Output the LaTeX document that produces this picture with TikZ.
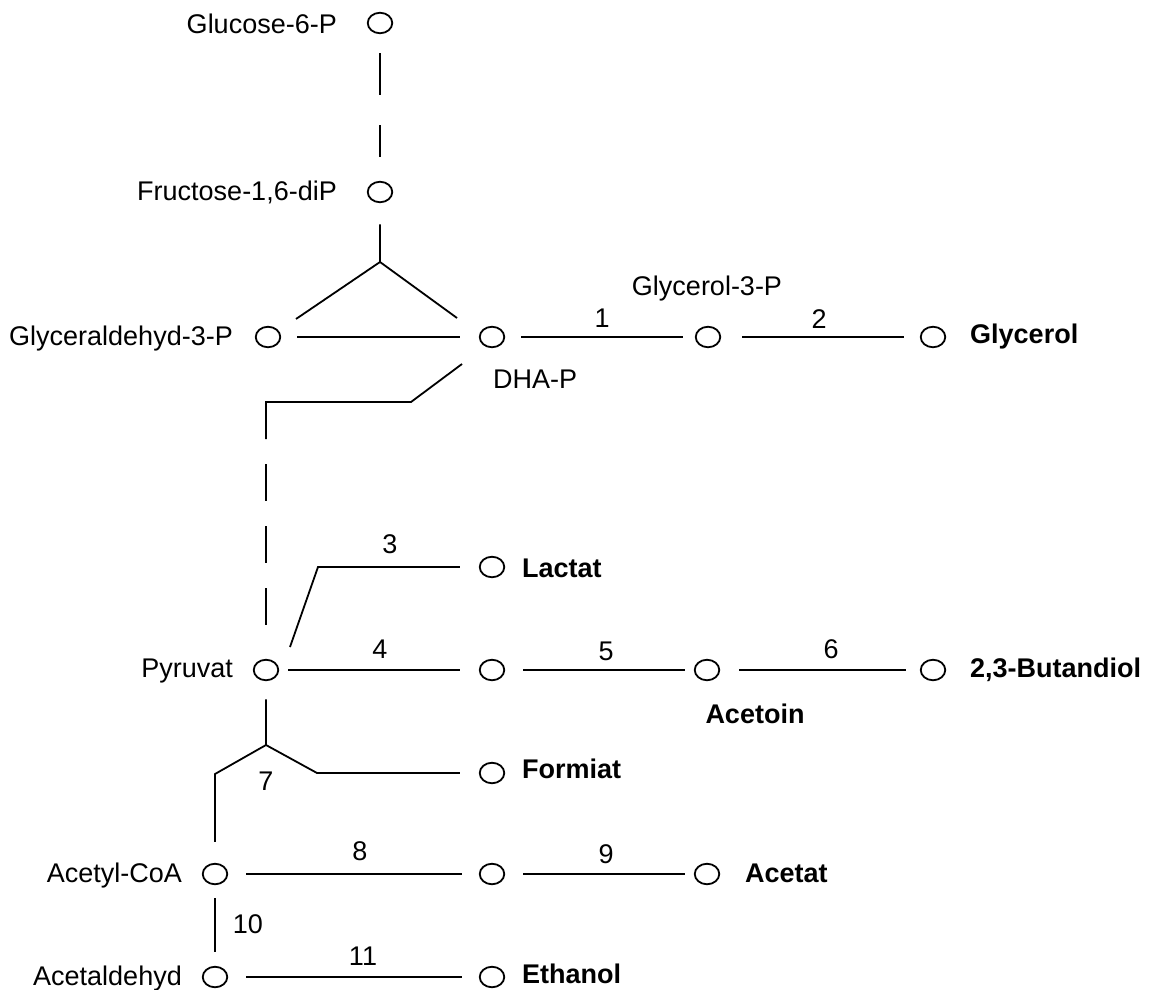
\documentclass[tikz,border=0pt]{standalone}
\usepackage{fontspec}
\setmainfont{Liberation Sans}
\usetikzlibrary{shapes.geometric}

\begin{document}
\begin{tikzpicture}[x=1pt,y=-1pt,
  met/.style={ellipse,draw,line width=1.8pt,minimum width=24.5pt,minimum height=20.5pt,inner sep=0pt,outer sep=0pt},
  lbl/.style={inner sep=0pt,font=\fontsize{27}{32}\selectfont},
  prod/.style={inner sep=0pt,font=\fontsize{27}{32}\selectfont\bfseries},
  num/.style={lbl,anchor=base},
  link/.style={line width=1.8pt},
  longdash/.style={link,dash pattern=on 42pt off 30pt},
  shortdash/.style={link,dash pattern=on 37pt off 25pt},
]
\useasboundingbox (0,0) rectangle (1156,990);

% metabolites
\node[met] (g6p)       at (380,23)  {};
\node[met] (f16)       at (380,192) {};
\node[met] (gap)       at (268,337) {};
\node[met] (dhap)      at (492,337) {};
\node[met] (g3p)       at (708,337) {};
\node[met] (glycerol)  at (933,337) {};
\node[met] (lactat)    at (492,567) {};
\node[met] (pyr)       at (266,670) {};
\node[met] (alac)      at (492,670) {};
\node[met] (acetoin)   at (707,670) {};
\node[met] (butandiol) at (933,670) {};
\node[met] (formiat)   at (492,773) {};
\node[met] (accoa)     at (215,874) {};
\node[met] (acp)       at (492,874) {};
\node[met] (acetat)    at (707,874) {};
\node[met] (acald)     at (215,977) {};
\node[met] (ethanol)   at (492,977) {};

% names
\node[lbl,anchor=base east] (tg6p)  at (337,34)  {Glucose-6-P};
\node[lbl,anchor=base east] (tf16)  at (337,200) {Fructose-1,6-diP};
\node[lbl,anchor=base east] (tgap)  at (233,345) {Glyceraldehyd-3-P};
\node[lbl,anchor=base west] (tdhap) at (493,388) {DHA-P};
\node[lbl,anchor=base]      (tg3p)  at (707,295) {Glycerol-3-P};
\node[prod,anchor=base west] (tglycerol) at (970,343) {Glycerol};
\node[prod,anchor=base west] (tlactat)   at (522,577) {Lactat};
\node[lbl,anchor=base east] (tpyr)  at (233,677) {Pyruvat};
\node[prod,anchor=base]      (tacetoin)  at (755,723) {Acetoin};
\node[prod,anchor=base west] (tbutandiol) at (970,677) {2,3-Butandiol};
\node[prod,anchor=base west] (tformiat)  at (522,778) {Formiat};
\node[lbl,anchor=base east] (taccoa) at (182,882) {Acetyl-CoA};
\node[prod,anchor=base west] (tacetat)   at (745,882) {Acetat};
\node[lbl,anchor=base east] (tacald) at (182,985) {Acetaldehyd};
\node[prod,anchor=base west] (tethanol)  at (522,983) {Ethanol};

% enzyme numbers
\node[num] (e1)  at (602,327) {1};
\node[num] (e2)  at (819,328) {2};
\node[num] (e3)  at (390,553) {3};
\node[num] (e4)  at (380,658) {4};
\node[num] (e5)  at (606,660) {5};
\node[num] (e6)  at (831,658) {6};
\node[num] (e7)  at (266,790) {7};
\node[num] (e8)  at (360,860) {8};
\node[num] (e9)  at (606,863) {9};
\node[num] (e10) at (248,933) {10};
\node[num] (e11) at (363,965) {11};

% bend points
\coordinate (fk1) at (380,262);
\coordinate (fkL) at (296,319);
\coordinate (fkR) at (457,318);
\coordinate (c1)  at (411,402);
\coordinate (c2)  at (266,402);
\coordinate (k3)  at (318,567);
\coordinate (fk7) at (266,745);
\coordinate (k7L) at (215,774);
\coordinate (k7R) at (317,773);

% upper glycolysis
\draw[longdash] ([yshift=-20pt]g6p.south) -- ([yshift=25pt]f16.north);
\draw[link] ([yshift=-22pt]f16.south) -- (fk1) -- (fkL);
\draw[link] (fk1) -- (fkR);
\draw[link] ([xshift=17pt]gap.east) -- ([xshift=-20pt]dhap.west);

% glycerol branch
\draw[link] ([xshift=17pt]dhap.east) -- ([xshift=-13pt]g3p.west);
\draw[link] ([xshift=22pt]g3p.east) -- ([xshift=-17pt]glycerol.west);

% down to pyruvate
\draw[link] ([shift={(-30pt,-27pt)}]dhap.center) -- (c1) -- (c2) -- ++(0,37);
\draw[shortdash] ([yshift=-62pt]c2) -- ([yshift=34pt]pyr.north);

% pyruvate branches
\draw[link] ([shift={(24pt,23pt)}]pyr.center) -- (k3) -- ([xshift=-20pt]lactat.west);
\draw[link] ([xshift=10pt]pyr.east) -- ([xshift=-20pt]alac.west);
\draw[link] ([xshift=19pt]alac.east) -- ([xshift=-10pt]acetoin.west);
\draw[link] ([xshift=20pt]acetoin.east) -- ([xshift=-15pt]butandiol.west);
\draw[link] ([yshift=-19pt]pyr.south) -- (fk7) -- (k7L) -- ([yshift=22pt]accoa.north);
\draw[link] (fk7) -- (k7R) -- ([xshift=-20pt]formiat.west);

% acetyl-CoA branches
\draw[link] ([xshift=19pt]accoa.east) -- ([xshift=-18pt]acp.west);
\draw[link] ([xshift=19pt]acp.east) -- ([xshift=-10pt]acetat.west);
\draw[link] ([yshift=-14pt]accoa.south) -- ([yshift=15pt]acald.north);
\draw[link] ([xshift=19pt]acald.east) -- ([xshift=-18pt]ethanol.west);
\end{tikzpicture}
\end{document}
